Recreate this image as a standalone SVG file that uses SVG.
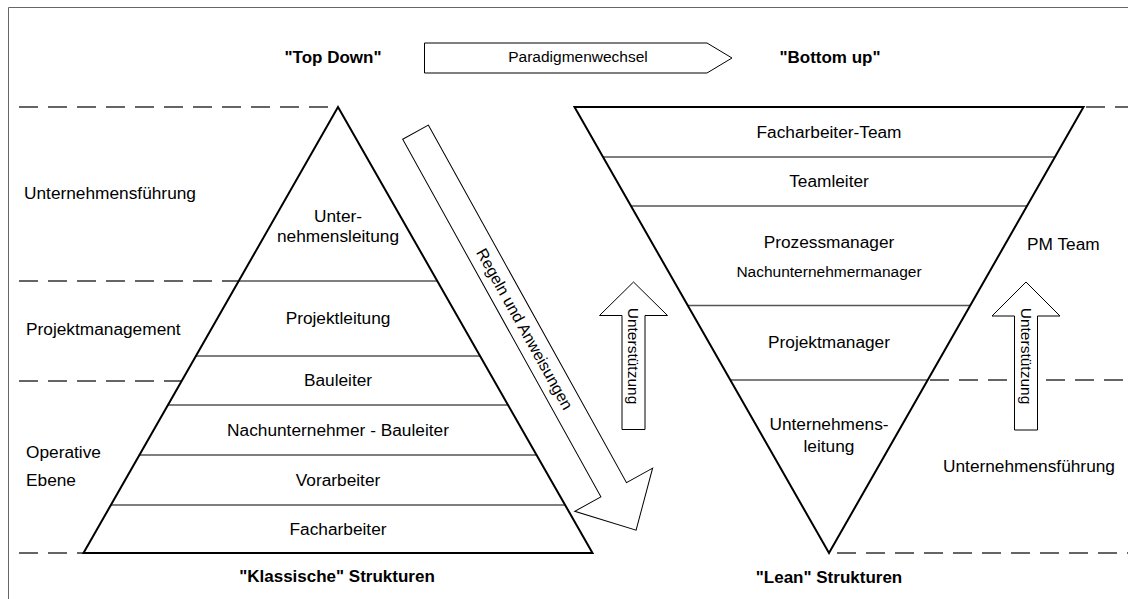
<svg xmlns="http://www.w3.org/2000/svg" width="1128" height="599" viewBox="0 0 1128 599">
  <style>
    text { font-family: "Liberation Sans", Arial, sans-serif; fill: #000; font-size: 17.3px; }
    .c { text-anchor: middle; }
    .b { font-weight: bold; font-size: 17px; }
    .sm { font-size: 15.5px; }
    .outline { fill: none; stroke: #000; stroke-width: 2; stroke-linejoin: miter; }
    .row { stroke: #555; stroke-width: 1.5; }
    .dash { stroke: #333; stroke-width: 1.5; stroke-dasharray: 19 10; fill: none; }
    .arrow { fill: #fff; stroke: #000; stroke-width: 1; }
    .frame { stroke: #666; stroke-width: 1; fill: none; }
  </style>

  <rect width="1128" height="599" fill="#fff"/>
  <path class="frame" d="M8.5,599 V7.5 H1128"/>

  <!-- level separators -->
  <g id="levels">
    <line class="dash" x1="19" y1="107" x2="338" y2="107"/>
    <line class="dash" x1="19" y1="281" x2="239" y2="281"/>
    <line class="dash" x1="19" y1="381" x2="182" y2="381"/>
    <line class="dash" x1="19" y1="553" x2="83" y2="553"/>
    <line class="dash" x1="1086" y1="107" x2="1128" y2="107"/>
    <line class="dash" x1="930" y1="380" x2="1128" y2="380"/>
    <line class="dash" x1="837" y1="553" x2="1128" y2="553"/>
  </g>

  <!-- headings -->
  <g id="headings">
    <text class="b c" x="333" y="63">"Top Down"</text>
    <text class="b c" x="830" y="63">"Bottom up"</text>
    <text class="b c" x="337" y="582">"Klassische" Strukturen</text>
    <text class="b c" x="829" y="583">"Lean" Strukturen</text>
  </g>

  <!-- level labels -->
  <g id="level-labels">
    <text x="24" y="199">Unternehmensführung</text>
    <text x="26" y="335">Projektmanagement</text>
    <text x="26" y="458">Operative</text>
    <text x="26" y="486">Ebene</text>
    <text x="1027" y="250">PM Team</text>
    <text x="943" y="472">Unternehmensführung</text>
  </g>

  <!-- classic pyramid -->
  <g id="classic-pyramid">
    <line class="row" x1="238.7" y1="281" x2="437.3" y2="281"/>
    <line class="row" x1="195.9" y1="356" x2="480.1" y2="356"/>
    <line class="row" x1="168" y1="405" x2="508" y2="405"/>
    <line class="row" x1="139.4" y1="455" x2="536.6" y2="455"/>
    <line class="row" x1="110.9" y1="505" x2="565.1" y2="505"/>
    <polygon class="outline" points="338,107 592.5,553 83.5,553"/>
    <text class="c" x="338" y="222">Unter-</text>
    <text class="c" x="338" y="242">nehmensleitung</text>
    <text class="c" x="338" y="324">Projektleitung</text>
    <text class="c" x="338" y="386">Bauleiter</text>
    <text class="c" x="338" y="436">Nachunternehmer - Bauleiter</text>
    <text class="c" x="338" y="486">Vorarbeiter</text>
    <text class="c" x="338" y="535">Facharbeiter</text>
  </g>

  <!-- lean pyramid -->
  <g id="lean-pyramid">
    <line class="row" x1="603" y1="157" x2="1055" y2="157"/>
    <line class="row" x1="631" y1="206" x2="1027" y2="206"/>
    <line class="row" x1="687.9" y1="305.5" x2="970.1" y2="305.5"/>
    <line class="row" x1="730.3" y1="380" x2="927.7" y2="380"/>
    <polygon class="outline" points="574.5,107 1083.5,107 829,553"/>
    <text class="c" x="829" y="137.5">Facharbeiter-Team</text>
    <text class="c" x="829" y="187">Teamleiter</text>
    <text class="c" x="829" y="248">Prozessmanager</text>
    <text class="c sm" x="829" y="277">Nachunternehmermanager</text>
    <text class="c" x="829" y="348">Projektmanager</text>
    <text class="c" x="829" y="430">Unternehmens-</text>
    <text class="c" x="829" y="451.5">leitung</text>
  </g>

  <!-- arrows -->
  <g id="connectors">
    <g id="paradigm-shift">
      <polygon class="arrow" points="424.5,43 707,43 732,58 707,73 424.5,73"/>
      <text class="c sm" x="578" y="62">Paradigmenwechsel</text>
    </g>
    <g id="rules" transform="translate(415.5,132.2) rotate(61)">
      <polygon class="arrow" points="0,-14.65 408.8,-14.65 408.8,-44.5 455,0 408.8,44.5 408.8,14.65 0,14.65"/>
      <text class="c" style="font-size:16px" x="225" y="5.5">Regeln und Anweisungen</text>
    </g>
    <g id="support-left">
      <polygon class="arrow" points="633.5,282 667.5,315.5 645,315.5 645,429.5 622,429.5 622,315.5 599.5,315.5"/>
      <text class="c sm" transform="translate(628,356) rotate(90)">Unterstützung</text>
    </g>
    <g id="support-right">
      <polygon class="arrow" points="1026,282 1060,316 1037.5,316 1037.5,430 1014.5,430 1014.5,316 992,316"/>
      <text class="c sm" transform="translate(1020.5,356) rotate(90)">Unterstützung</text>
    </g>
  </g>
</svg>
